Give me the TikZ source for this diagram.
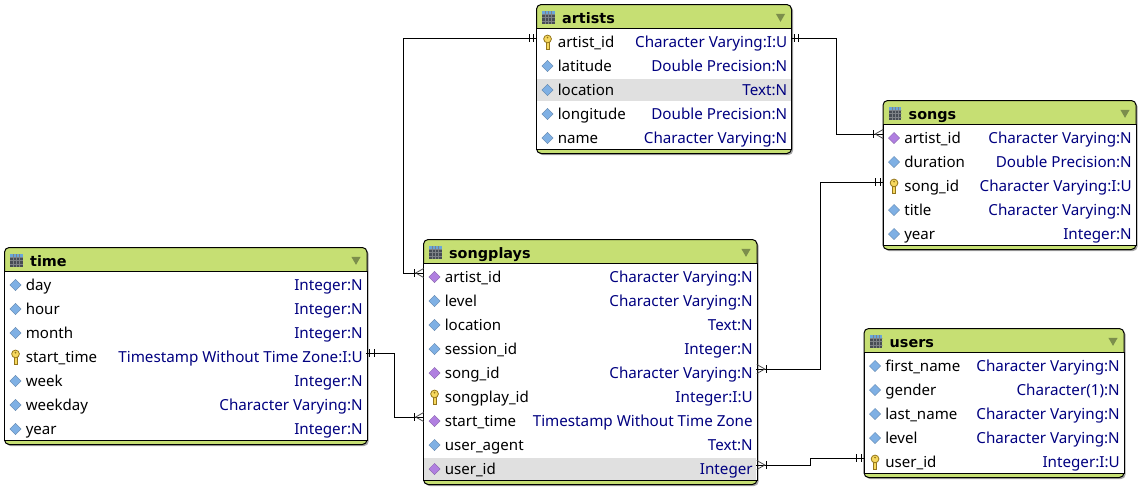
\documentclass[tikz,border=0pt]{standalone}
\usepackage{fontspec}
\setmainfont{Noto Sans}
\newfontfamily\titlefont{DejaVu Sans}
\usepackage{tikz}
\usetikzlibrary{arrows.meta,calc,positioning,shapes.geometric,shadows}

\definecolor{headgreen}{HTML}{C6DF73}
\definecolor{rowgrey}{HTML}{E0E0E0}
\definecolor{typeblue}{HTML}{000080}
\definecolor{attrblue}{HTML}{7FB0E4}
\definecolor{attrpurple}{HTML}{B07FE0}
\definecolor{keygold}{HTML}{F6D85E}
\definecolor{keyedge}{HTML}{94761C}
\definecolor{menuolive}{HTML}{7C8E4C}
\definecolor{gridgrey}{HTML}{474C54}
\definecolor{gridblue}{HTML}{6AA6D8}

\tikzset{
	tablebox/.style={draw=black,fill=headgreen,rounded corners=3.5pt,line width=.75pt,inner sep=0pt,outer sep=0pt,
		drop shadow={shadow xshift=1.2pt,shadow yshift=-1.2pt,opacity=.35,fill=black}},
	bodybox/.style={draw=black,fill=white,line width=.75pt,inner sep=0pt,outer sep=0pt},
	rowcell/.style={inner sep=0pt,outer sep=0pt,minimum height=16.8pt},
	rowname/.style={inner sep=0pt,yshift=-1.5pt,font=\fontsize{11.3pt}{13pt}\selectfont,text=black},
	rowtype/.style={inner sep=0pt,yshift=-1.5pt,font=\fontsize{11.4pt}{13pt}\selectfont,text=typeblue},
	tabletitle/.style={inner sep=0pt,yshift=-1.5pt,font=\fontsize{10.8pt}{14pt}\selectfont\titlefont\bfseries,text=black},
	menumark/.style={regular polygon,regular polygon sides=3,shape border rotate=180,fill=menuolive,inner sep=0pt,minimum size=8pt},
	attr/.style={diamond,fill=attrblue,draw=attrblue!75!black,line width=.2pt,inner sep=0pt,minimum size=8.5pt},
	fkey/.style={diamond,fill=attrpurple,draw=attrpurple!75!black,line width=.2pt,inner sep=0pt,minimum size=8.5pt},
	pkey/.style={inner sep=0pt,minimum width=7pt,minimum height=11.5pt,path picture={
		\fill[keygold,draw=keyedge,line width=.5pt]
			([xshift=-1.1pt,yshift=-.2pt]path picture bounding box.center) rectangle ++(2.2pt,-5.2pt);
		\draw[fill=keygold,draw=keyedge,line width=.6pt]
			([yshift=2.3pt]path picture bounding box.center) circle (2.9pt);
		\fill[keyedge] ([yshift=3.3pt]path picture bounding box.center) circle (.7pt);
	}},
	gridmark/.style={inner sep=0pt,minimum size=9.7pt,path picture={
		\fill[gridgrey] (path picture bounding box.south west) rectangle (path picture bounding box.north east);
		\fill[gridblue] ([yshift=-2pt]path picture bounding box.north west) rectangle (path picture bounding box.north east);
		\foreach \d in {2.4,4.8,7.2}{
			\draw[white!30!gridgrey,line width=.3pt] ([xshift=\d pt]path picture bounding box.south west) -- ++(0,-13);
			\draw[white!30!gridgrey,line width=.3pt] ([yshift=\d pt]path picture bounding box.south west) -- ++(13,0);
		}
	}},
	portup/.style={yshift=3pt},
	erlink/.style={draw=black,line width=.72pt,postaction={draw,
		{Bar[width=5.5pt,line width=.75pt,sep=2pt]Bar[width=5.5pt,line width=.75pt,sep=2.6pt]}-{Bar[width=5.5pt,line width=.75pt,sep=0pt]Straight Barb[reversed,length=6pt,width=6.8pt,line width=.55pt,black!75]}}},
}

% id, left, top, right, title, rows (kind/name/type/cell colour)
\newcommand{\ertable}[6]{
	\def\nrows{0}
	\foreach \k/\rn/\rt/\cf [count=\i] in {#6} {\global\let\nrows\i}
	\pgfmathsetmacro{\bot}{#3+37.5+24*(\nrows-1)+15.5}
	\pgfmathsetmacro{\wid}{#4-#2}
	\node[tablebox,minimum width=\wid*.75pt,minimum height=(\bot-#3)*.75pt,anchor=north west] (#1) at (#2,#3) {};
	\node[bodybox,minimum width=\wid*.75pt,minimum height=(\bot-#3-28)*.75pt,anchor=north west] (#1-body) at (#2,#3+24) {};
	\node[gridmark] (#1-grid) at (#2+12,#3+13) {};
	\node[tabletitle,right=5pt of #1-grid] (#1-title) {\strut #5};
	\node[menumark] (#1-menu) at (#4-11,#3+12) {};
	\foreach \k/\rn/\rt/\cf [count=\i] in {#6} {
		\node[rowcell,minimum width=\wid*.75pt-.8pt,fill=\cf] (#1-r\i) at ({(#2+#4)/2},{#3+37.5+24*(\i-1)}) {};
		\node[\k] (#1-r\i-icon) at ($(#1-r\i.west)+(10.5,0)$) {};
		\node[rowname,anchor=west] (#1-r\i-name) at ($(#1-r\i.west)+(20.5,0)$) {\strut\rn};
		\node[rowtype,anchor=east] (#1-r\i-type) at ($(#1-r\i.east)+(-3.5,0)$) {\strut\rt};
	}
}

\begin{document}
\begin{tikzpicture}[x=.75pt,y=-.75pt]
	\useasboundingbox (0,0) rectangle (1141,490);

	\ertable{artists}{536.5}{4.5}{791.5}{artists}{
		pkey/artist\_id/Character Varying:I:U/white,
		attr/latitude/Double Precision:N/white,
		attr/location/Text:N/rowgrey,
		attr/longitude/Double Precision:N/white,
		attr/name/Character Varying:N/white}
	\ertable{songs}{883}{100.5}{1136}{songs}{
		fkey/artist\_id/Character Varying:N/white,
		attr/duration/Double Precision:N/white,
		pkey/song\_id/Character Varying:I:U/white,
		attr/title/Character Varying:N/white,
		attr/year/Integer:N/white}
	\ertable{users}{864}{328.5}{1124}{users}{
		attr/first\_name/Character Varying:N/white,
		attr/gender/Character(1):N/white,
		attr/last\_name/Character Varying:N/white,
		attr/level/Character Varying:N/white,
		pkey/user\_id/Integer:I:U/white}
	\ertable{songplays}{423.5}{239.5}{757}{songplays}{
		fkey/artist\_id/Character Varying:N/white,
		attr/level/Character Varying:N/white,
		attr/location/Text:N/white,
		attr/session\_id/Integer:N/white,
		fkey/song\_id/Character Varying:N/white,
		pkey/songplay\_id/Integer:I:U/white,
		fkey/start\_time/Timestamp Without Time Zone/white,
		attr/user\_agent/Text:N/white,
		fkey/user\_id/Integer/rowgrey}
	\ertable{time}{4.5}{247.5}{367}{time}{
		attr/day/Integer:N/white,
		attr/hour/Integer:N/white,
		attr/month/Integer:N/white,
		pkey/start\_time/Timestamp Without Time Zone:I:U/white,
		attr/week/Integer:N/white,
		attr/weekday/Character Varying:N/white,
		attr/year/Integer:N/white}

	\path[erlink] ([portup]artists-r1.west) -- ++(-133.5,0) |- ([portup]songplays-r1.west);
	\path[erlink] ([portup]artists-r1.east) -- ++(45.5,0) |- ([portup]songs-r1.west);
	\path[erlink] ([portup]songs-r3.west) -- ++(-63.5,0) |- ([portup]songplays-r5.east);
	\path[erlink] ([portup]time-r4.east) -- ++(28,0) |- ([portup]songplays-r7.west);
	\path[erlink] ([portup]users-r5.west) -- ++(-54,0) |- ([portup]songplays-r9.east);
\end{tikzpicture}
\end{document}
